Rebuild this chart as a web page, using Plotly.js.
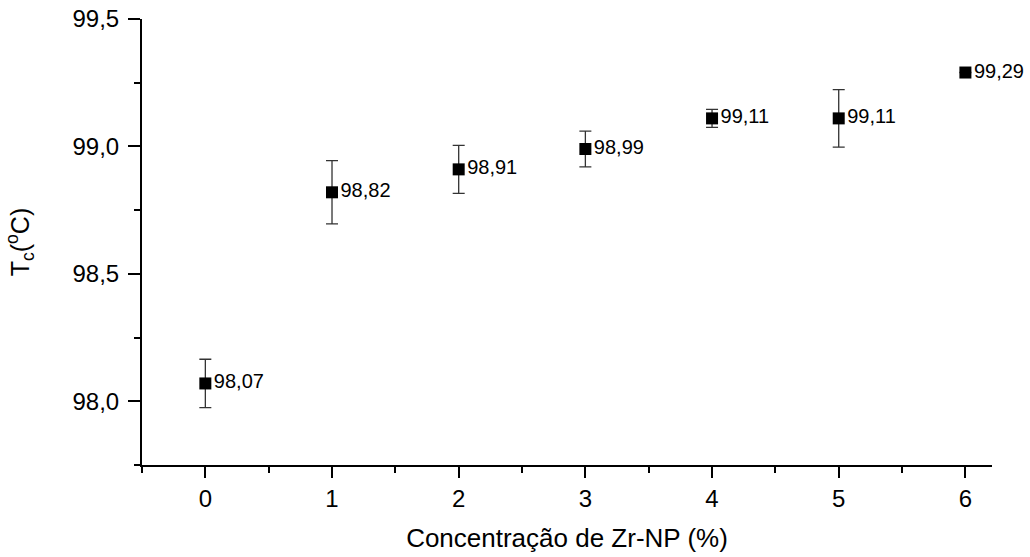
<!DOCTYPE html>
<html>
<head>
<meta charset="utf-8">
<script src="https://cdn.plot.ly/plotly-3.0.1.min.js"></script>
<style>
  html, body { margin: 0; padding: 0; background: #fff; }
  #chart { width: 1030px; height: 557px; }
</style>
</head>
<body>
<div id="chart"></div>
<script>
// Crystallization temperature vs. Zr-NP concentration
const concentration = [0, 1, 2, 3, 4, 5, 6];
const tc = [98.07, 98.82, 98.91, 98.99, 99.11, 99.11, 99.29];
const tcError = [0.095, 0.124, 0.094, 0.07, 0.035, 0.113, 0];
const tcLabels = ['98,07', '98,82', '98,91', '98,99', '99,11', '99,11', '99,29'];

const font = 'Liberation Sans, Arial, sans-serif';

const trace = {
  x: concentration,
  y: tc,
  type: 'scatter',
  mode: 'markers+text',
  marker: { symbol: 'square', size: 12, color: '#000' },
  text: tcLabels,
  textposition: 'middle right',
  textfont: { family: font, size: 20, color: '#000' },
  error_y: {
    type: 'data',
    array: tcError,
    visible: true,
    color: '#333',
    thickness: 1.3,
    width: 6
  },
  cliponaxis: false,
  hoverinfo: 'x+y'
};

const layout = {
  width: 1030,
  height: 557,
  margin: { l: 142, r: 38, t: 19, b: 92 },
  paper_bgcolor: '#fff',
  plot_bgcolor: '#fff',
  separators: ',.',
  showlegend: false,
  font: { family: font, color: '#000' },
  xaxis: {
    range: [-0.5, 6.21],
    dtick: 1,
    tick0: 0,
    ticks: 'outside',
    ticklen: 11,
    tickwidth: 2,
    tickcolor: '#000',
    minor: { dtick: 0.5, tick0: 0, ticks: 'outside', ticklen: 6, tickwidth: 2, tickcolor: '#000', showgrid: false },
    showline: true,
    linecolor: '#000',
    linewidth: 2,
    showgrid: false,
    zeroline: false,
    tickfont: { family: font, size: 24, color: '#000' },
    title: { text: 'Concentração de Zr-NP (%)', font: { family: font, size: 26, color: '#000' }, standoff: 18 }
  },
  yaxis: {
    range: [97.75, 99.5],
    dtick: 0.5,
    tick0: 98,
    tickformat: '.1f',
    ticks: 'outside',
    ticklen: 12,
    tickwidth: 2,
    tickcolor: '#000',
    ticklabelstandoff: 4,
    minor: { dtick: 0.25, tick0: 98, ticks: 'outside', ticklen: 6, tickwidth: 2, tickcolor: '#000', showgrid: false },
    showline: true,
    linecolor: '#000',
    linewidth: 2,
    showgrid: false,
    zeroline: false,
    tickfont: { family: font, size: 24, color: '#000' },
    title: { text: 'T<sub>c</sub>(<sup>o</sup>C)', font: { family: font, size: 25, color: '#000' }, standoff: 36 }
  }
};

Plotly.newPlot('chart', [trace], layout, { displayModeBar: false, staticPlot: true });
</script>
</body>
</html>
